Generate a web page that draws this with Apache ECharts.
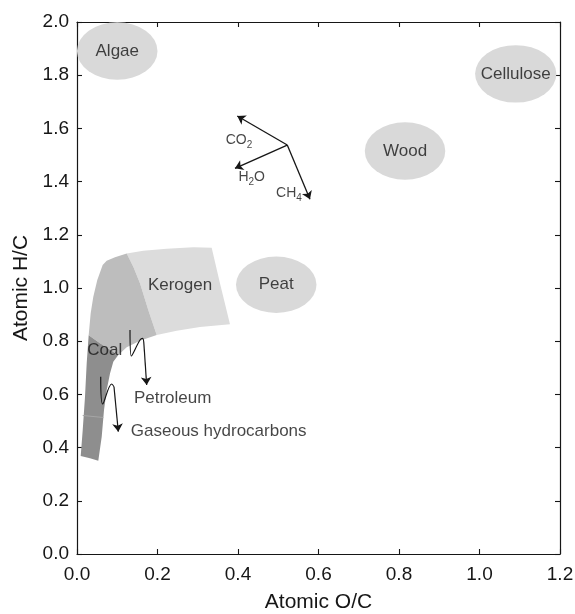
<!DOCTYPE html>
<html>
<head>
<meta charset="utf-8">
<script src="https://cdn.jsdelivr.net/npm/echarts@6/dist/echarts.min.js"></script>
<style>html,body{margin:0;padding:0;background:#fff}#c{width:575px;height:614px}</style>
</head>
<body>
<div id="c"></div>
<script>
// ---- Data (atomic O/C, atomic H/C) ----
const ellipseNames = ['Algae', 'Cellulose', 'Wood', 'Peat'];
const ellipseCX = [0.100, 1.090, 0.815, 0.495];
const ellipseCY = [1.891, 1.805, 1.515, 1.012];
const ellipseRX = [0.100, 0.101, 0.100, 0.100];
const ellipseRY = [0.108, 0.108, 0.108, 0.106];

const kerogenLight = [[0.1235,1.130],[0.1647,1.140],[0.2228,1.1477],[0.2889,1.1529],[0.3346,1.1514],[0.3552,1.0176],[0.3801,0.8635],[0.3055,0.8533],[0.2477,0.8394],[0.198,0.8232],[0.1771,0.9172],[0.1565,1.0176],[0.1399,1.080]];
const kerogenMedium = [[0.1235,1.130],[0.1399,1.080],[0.1565,1.0176],[0.1771,0.9172],[0.198,0.8232],[0.1565,0.802],[0.1235,0.777],[0.1026,0.748],[0.0571,0.792],[0.029,0.822],[0.034,0.9048],[0.0405,0.9672],[0.0504,1.030],[0.0638,1.0864],[0.0738,1.1025],[0.0944,1.1153]];
const coalDark = [[0.029,0.822],[0.0571,0.792],[0.1026,0.748],[0.0902,0.723],[0.082,0.679],[0.0738,0.6165],[0.0671,0.541],[0.0614,0.441],[0.0529,0.351],[0.0323,0.3597],[0.0092,0.3684],[0.0142,0.4661],[0.0199,0.5913],[0.0241,0.7168]];
const coalSeam = [[0.0142,0.5207],[0.0653,0.5132]];

const reactOrigin = [0.5224, 1.5374];
const reactEnds = [[0.3982,1.6464],[0.3925,1.4499],[0.5788,1.3333]];
const reactLabels = ['CO{s|2}', 'H{s|2}O', 'CH{s|4}'];
const reactLabelPos = [[0.4024,1.556],[0.434,1.415],[0.5266,1.357]];

const petroWave = [[0.1317,0.8420],[0.1350,0.7443],[0.1565,0.8045],[0.1631,0.8108],[0.1664,0.7856]];
const petroArrow = [[0.1664,0.7856],[0.1731,0.6353]];
const gasWave = [[0.0589,0.6665],[0.0638,0.5639],[0.0862,0.6391],[0.0919,0.6289]];
const gasArrow = [[0.0919,0.6289],[0.1026,0.4599]];

const regionLabels = ['Kerogen', 'Coal', 'Petroleum', 'Gaseous hydrocarbons'];
const regionLabelPos = [[0.256,1.009],[0.069,0.767],[0.2376,0.586],[0.352,0.462]];

const xMin = 0, xMax = 1.2, xStep = 0.2;
const yMin = 0, yMax = 2.0, yStep = 0.2;

// ---- Chart ----
const FONT = '"Liberation Sans", Arial, sans-serif';
const INK = '#161616';
const chart = echarts.init(document.getElementById('c'));

function polySeries(points, color) {
  return {
    type: 'custom', xAxisIndex: 0, yAxisIndex: 0, silent: true, clip: true,
    data: [points[0]],
    renderItem: function (params, api) {
      return { type: 'polygon', shape: { points: points.map(p => api.coord(p)) },
               style: { fill: color, stroke: null } };
    }
  };
}

const baseAxis = {
  axisLine: { show: true, onZero: false, lineStyle: { color: INK, width: 1.2 } },
  axisTick: { show: true, inside: true, length: 5, lineStyle: { color: INK, width: 1.1 } },
  splitLine: { show: false }
};

const labelStyle = { show: true, position: 'inside', formatter: p => p.name,
  fontFamily: FONT, color: INK, textBorderWidth: 0, textBorderColor: 'transparent',
  textShadowBlur: 0 };

const option = {
  backgroundColor: '#fff',
  animation: false,
  grid: { left: 77, right: 15, top: 22, bottom: 60, containLabel: false, outerBoundsMode: 'none' },
  xAxis: [
    Object.assign({}, baseAxis, {
      type: 'value', min: xMin, max: xMax, interval: xStep, position: 'bottom',
      name: 'Atomic O/C', nameLocation: 'middle', nameGap: 38,
      nameTextStyle: { fontFamily: FONT, fontSize: 21, color: INK },
      axisLabel: { fontFamily: FONT, fontSize: 19, color: INK, margin: 11, formatter: v => v.toFixed(1) }
    }),
    Object.assign({}, baseAxis, {
      type: 'value', min: xMin, max: xMax, interval: xStep, position: 'top',
      axisLabel: { show: false }
    })
  ],
  yAxis: [
    Object.assign({}, baseAxis, {
      type: 'value', min: yMin, max: yMax, interval: yStep, position: 'left',
      name: 'Atomic H/C', nameLocation: 'middle', nameGap: 42,
      nameTextStyle: { fontFamily: FONT, fontSize: 21, color: INK },
      axisLabel: { fontFamily: FONT, fontSize: 19, color: INK, margin: 8, formatter: v => v.toFixed(1) }
    }),
    Object.assign({}, baseAxis, {
      type: 'value', min: yMin, max: yMax, interval: yStep, position: 'right',
      axisLabel: { show: false }
    })
  ],
  series: [
    polySeries(kerogenLight, '#dcdcdc'),
    polySeries(kerogenMedium, '#bdbdbd'),
    polySeries(coalDark, '#8e8e8e'),
    {
      type: 'line', data: coalSeam, symbol: 'none', silent: true,
      lineStyle: { color: '#a6a6a6', width: 1 }
    },
    {
      type: 'custom', silent: true, clip: true,
      data: ellipseNames.map((n, i) => [ellipseCX[i], ellipseCY[i], ellipseRX[i], ellipseRY[i]]),
      renderItem: function (params, api) {
        const c = api.coord([api.value(0), api.value(1)]);
        const s = api.size([api.value(2), api.value(3)]);
        return { type: 'circle', shape: { cx: 0, cy: 0, r: 1 }, x: c[0], y: c[1],
                 scaleX: s[0], scaleY: s[1], style: { fill: '#d9d9d9' } };
      }
    },
    // reaction vectors
    {
      type: 'lines', coordinateSystem: 'cartesian2d', silent: true,
      symbol: ['none', 'arrow'], symbolSize: 8,
      lineStyle: { color: INK, width: 1.3, opacity: 1 },
      data: reactEnds.map(e => ({ coords: [reactOrigin, e] }))
    },
    // wavy arrows
    { type: 'line', data: petroWave, smooth: 0.35, symbol: 'none', silent: true, lineStyle: { color: INK, width: 1.2 } },
    { type: 'line', data: gasWave, smooth: 0.35, symbol: 'none', silent: true, lineStyle: { color: INK, width: 1.2 } },
    {
      type: 'lines', coordinateSystem: 'cartesian2d', silent: true,
      symbol: ['none', 'arrow'], symbolSize: 8,
      lineStyle: { color: INK, width: 1.2, opacity: 1 },
      data: [{ coords: petroArrow }, { coords: gasArrow }]
    },
    // text labels
    {
      type: 'scatter', symbolSize: 0, silent: true, itemStyle: { color: INK },
      data: ellipseNames.map((n, i) => ({ value: [ellipseCX[i], ellipseCY[i]], name: n }))
        .concat(regionLabels.map((n, i) => ({ value: regionLabelPos[i], name: n }))),
      label: Object.assign({}, labelStyle, { fontSize: 17 })
    },
    {
      type: 'scatter', symbolSize: 0, silent: true, itemStyle: { color: INK },
      data: reactLabels.map((n, i) => ({ value: reactLabelPos[i], name: n })),
      label: Object.assign({}, labelStyle, { fontSize: 14,
               rich: { s: { fontFamily: FONT, fontSize: 10, color: INK, padding: [10, 0, 0, 0] } } })
    }
  ]
};
chart.setOption(option);
</script>
</body>
</html>
